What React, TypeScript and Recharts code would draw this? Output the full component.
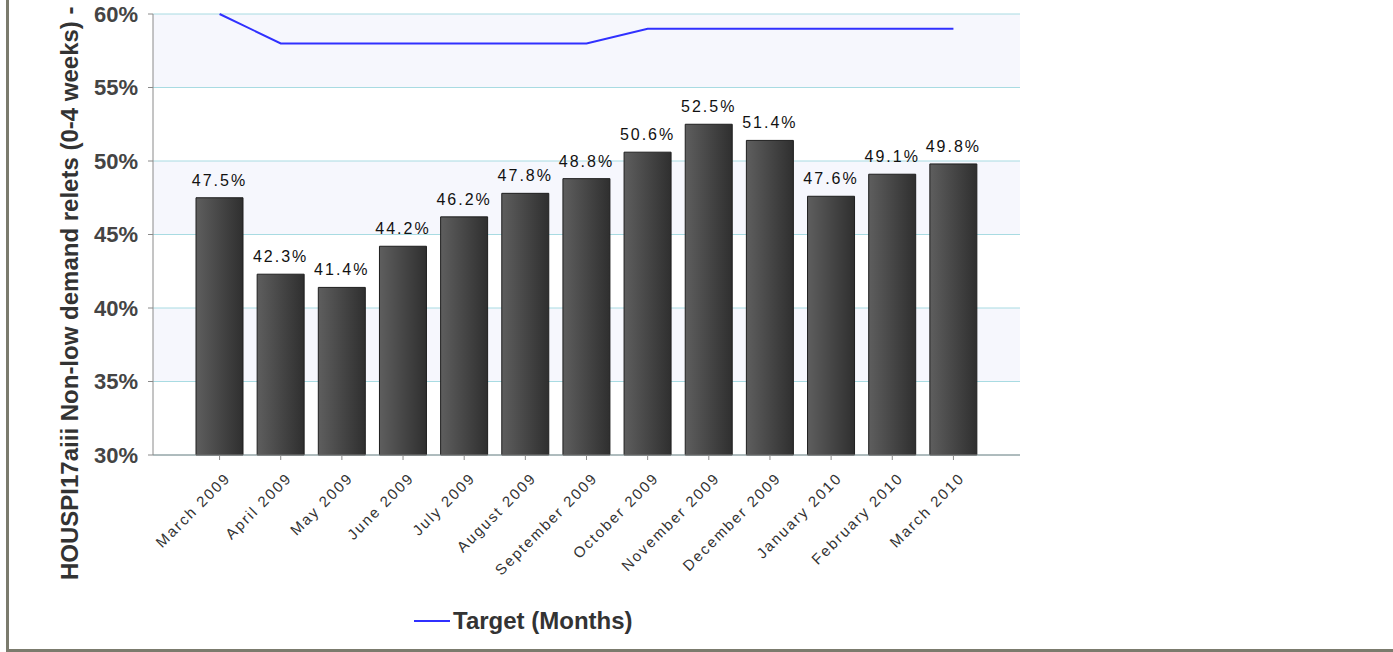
import { ComposedChart, Bar, Line, XAxis, YAxis, CartesianGrid, LabelList, Legend } from 'recharts';

const months = [
  'March 2009', 'April 2009', 'May 2009', 'June 2009', 'July 2009', 'August 2009',
  'September 2009', 'October 2009', 'November 2009', 'December 2009', 'January 2010',
  'February 2010', 'March 2010',
];
const relets = [47.5, 42.3, 41.4, 44.2, 46.2, 47.8, 48.8, 50.6, 52.5, 51.4, 47.6, 49.1, 49.8];
const target = [60, 58, 58, 58, 58, 58, 58, 59, 59, 59, 59, 59, 59];
const yTicks = [30, 35, 40, 45, 50, 55, 60];

const data = months.map((month, i) => ({ month, relets: relets[i], target: target[i] }));

const FONT = '"Liberation Sans", Arial, sans-serif';

function MonthTick({ x, y, payload }: any) {
  const ax = x + 12;
  const ay = y + 17;
  return (
    <text
      x={ax}
      y={ay}
      transform={`rotate(-45, ${ax}, ${ay})`}
      textAnchor="end"
      fontFamily={FONT}
      fontSize={15}
      letterSpacing={1.9}
      fill="#333"
    >
      {payload.value}
    </text>
  );
}

function AxisTitle() {
  return (
    <text
      x={78}
      y={580}
      transform="rotate(-90, 78, 580)"
      textAnchor="start"
      fontFamily={FONT}
      fontSize={24}
      fontWeight="bold"
      fill="#333"
    >
      HOUSPI17aiii Non-low demand relets (0-4 weeks) -
    </text>
  );
}

function TargetLegend() {
  return (
    <div style={{ display: 'flex', alignItems: 'center', height: 26, fontFamily: FONT }}>
      <svg width={38} height={26}>
        <line x1={1} y1={13} x2={37} y2={13} stroke="#3030ff" strokeWidth={2} />
      </svg>
      <span style={{ fontSize: 24, fontWeight: 'bold', color: '#333', marginLeft: 2 }}>Target (Months)</span>
    </div>
  );
}

export default function App() {
  return (
    <div style={{ position: 'absolute', left: 0, top: 0, width: 1393, height: 652, background: '#fff' }}>
      <div style={{ position: 'absolute', left: 6, top: 0, width: 3, height: 652, background: '#7b7b6d' }} />
      <div style={{ position: 'absolute', left: 6, top: 649, width: 1387, height: 3, background: '#7b7b6d' }} />
      <ComposedChart
        width={1393}
        height={652}
        data={data}
        margin={{ top: 14, right: 373, left: 93, bottom: 18 }}
      >
        <defs>
          <linearGradient id="barShade" x1="0" y1="0" x2="1" y2="0">
            <stop offset="0%" stopColor="#5e5e5e" />
            <stop offset="100%" stopColor="#2f2f2f" />
          </linearGradient>
        </defs>
        <CartesianGrid
          vertical={false}
          stroke="#a8dbe2"
          horizontalFill={['#f6f7fd', '#ffffff']}
          fillOpacity={1}
        />
        <XAxis
          dataKey="month"
          interval={0}
          height={153}
          padding={{ left: 36, right: 36 }}
          stroke="#8a8a8a"
          tickSize={5}
          tick={<MonthTick />}
        />
        <YAxis
          domain={[30, 60]}
          ticks={yTicks}
          width={60}
          stroke="#8a8a8a"
          tickSize={5}
          tickMargin={10}
          tickFormatter={(v: number) => `${v}%`}
          tick={{ fontFamily: FONT, fontSize: 22, fontWeight: 'bold', fill: '#444' }}
          label={{ content: () => <AxisTitle /> }}
        />
        <Legend
          verticalAlign="bottom"
          wrapperStyle={{ left: 413, width: 'auto' }}
          content={() => <TargetLegend />}
        />
        <Bar
          dataKey="relets"
          barSize={47}
          fill="url(#barShade)"
          stroke="#1e1e1e"
          strokeWidth={1}
          isAnimationActive={false}
          legendType="none"
        >
          <LabelList
            dataKey="relets"
            position="top"
            offset={12}
            formatter={(v: any) => `${Number(v).toFixed(1)}%`}
            fontFamily={FONT}
            fontSize={16}
            letterSpacing={2}
            fill="#111"
          />
        </Bar>
        <Line
          dataKey="target"
          type="linear"
          stroke="#3030ff"
          strokeWidth={2}
          dot={false}
          activeDot={false}
          isAnimationActive={false}
        />
      </ComposedChart>
    </div>
  );
}
